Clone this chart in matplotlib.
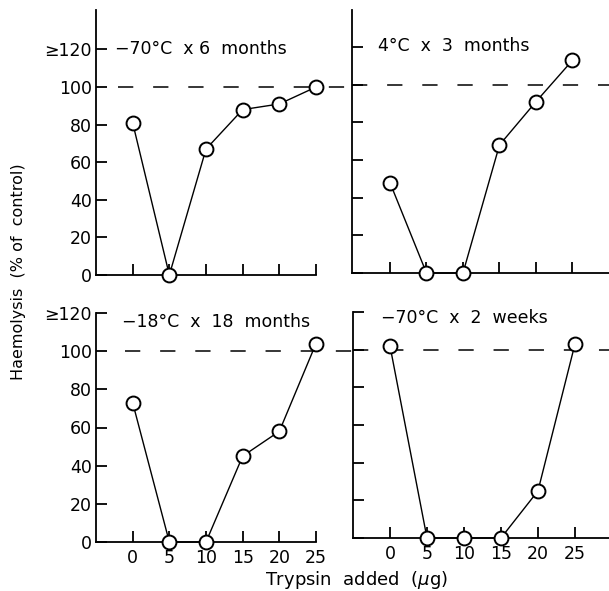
import numpy as np
import matplotlib
matplotlib.use("Agg")
import matplotlib.pyplot as plt

plt.rcParams['font.family'] = ['DejaVu Sans']

trypsin = [0, 5, 10, 15, 20, 25]

# haemolysis, % of control
h_70c_6mo = [81, 0, 67, 88, 91, 100]
h_4c_3mo = [48, 0, 0, 68, 91, 113]
h_18c_18mo = [73, 0, 0, 45, 58, 104]
h_70c_2wk = [102, 0, 0, 0, 25, 103]

labels = ["\u221270\u00b0C  x 6  months", "4\u00b0C  x  3  months",
          "\u221218\u00b0C  x  18  months", "\u221270\u00b0C  x  2  weeks"]
yticks = [0, 20, 40, 60, 80, 100, 120]
ytick_labels = ["0", "20", "40", "60", "80", "100", "\u2265120"]

W, H = 609, 591
fig = plt.figure(figsize=(W / 100, H / 100), dpi=100)

def px_axes(x0, x1, ytop, ybot):
    return fig.add_axes([x0 / W, 1 - ybot / H, (x1 - x0) / W, (ybot - ytop) / H])

panels = [
    # axes box (px), xlim, ylim top, data, label pos, dashed extent, show x labels, show y labels
    (px_axes(96, 316, 10, 275), (-5, 25), 141, h_70c_6mo, (0.086, 0.853), (-2, 30), False, True),
    (px_axes(352, 609, 10, 273), (-5.2, 30), 139.7, h_4c_3mo, (0.101, 0.863), (-5.2, 30), False, False),
    (px_axes(96, 316, 313, 542), (-5, 25), 120, h_18c_18mo, (0.118, 0.96), (-1, 30), True, True),
    (px_axes(353, 609, 312, 538), (-5, 29.6), 120, h_70c_2wk, (0.109, 0.973), (-5, 29.6), True, False),
]

for i, (ax, xl, ytop, vals, tpos, dext, xlab, ylab) in enumerate(panels):
    ax.set_xlim(*xl)
    ax.set_ylim(0, ytop)
    ax.spines['top'].set_visible(False)
    ax.spines['right'].set_visible(False)
    for s in ['left', 'bottom']:
        ax.spines[s].set_linewidth(1.3)
    ax.hlines(100, dext[0], dext[1], color='black', lw=1.1, ls=(0, (10, 13)),
              zorder=1, clip_on=False)
    ax.plot(trypsin, vals, color='black', lw=1.0, marker='o', ms=10,
            mfc='white', mec='black', mew=1.4, clip_on=False, zorder=3)
    ax.set_xticks(trypsin)
    ax.set_yticks(yticks)
    ax.tick_params(direction='in', length=8, width=1.3, labelsize=12.5, pad=5)
    if xlab:
        ax.set_xticklabels([str(t) for t in trypsin])
    else:
        ax.set_xticklabels([])
    if ylab:
        ax.set_yticklabels(ytick_labels)
    else:
        ax.set_yticklabels([])
    ax.tick_params(axis='y', pad=3)
    ax.text(tpos[0], tpos[1], labels[i], transform=ax.transAxes, fontsize=12.5,
            ha='left', va='center')

fig.text(19 / W, 1 - 272 / H, "Haemolysis  (% of  control)", rotation=90,
         ha='center', va='center', fontsize=11.5)
fig.text(356 / W, 1 - 580 / H, "Trypsin  added  ($\\mu$g)", ha='center',
         va='center', fontsize=13)

fig.savefig("out.png", dpi=100)
